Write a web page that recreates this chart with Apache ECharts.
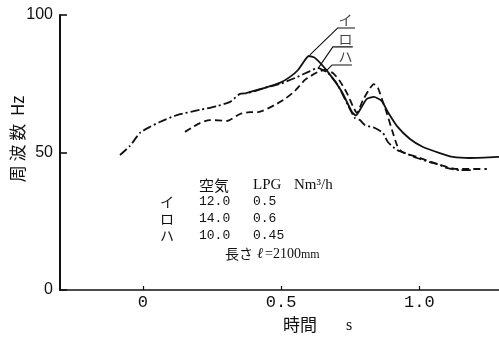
<!DOCTYPE html>
<html><head><meta charset="utf-8">
<script src="https://cdn.jsdelivr.net/npm/echarts@6/dist/echarts.min.js"></script>
<style>html,body{margin:0;padding:0;background:#fff}#c{width:499px;height:338px}</style>
</head><body><div id="c"></div>
<script>
// ---- data ----
const xTickValues = [0, 0.5, 1.0];
const xTickLabels = ['0', '0.5', '1.0'];
const yTickValues = [0, 50, 100];

// イ (solid)
const timeI = [0.373,0.441,0.495,0.532,0.561,0.586,0.600,0.622,0.669,0.720,0.756,0.770,0.785,0.810,0.835,0.864,0.886,0.919,0.966,1.013,1.074,1.121,1.183,1.288];
const freqI = [71.6,73.5,75.3,77.5,80.0,83.6,85.1,84.4,79.3,72.0,64.7,63.5,65.5,69.5,70.2,68.7,64.7,59.6,54.9,52.0,49.8,48.4,48.0,48.4];

// ロ (dash-dot)
const timeRo = [-0.083,-0.047,-0.011,0.025,0.061,0.123,0.206,0.268,0.315,0.351,0.380,0.441,0.495,0.550,0.604,0.633,0.669,0.705,0.741,0.767,0.785,0.803,0.839,0.868,0.886,0.919,0.948,0.991,1.038,1.074,1.099,1.146,1.190];
const freqRo = [49.1,52.4,57.1,59.3,61.1,63.6,65.5,66.9,68.4,71.3,71.6,73.5,74.9,77.1,79.6,80.7,78.9,74.5,67.3,62.5,61.8,60.0,58.9,57.1,53.8,50.9,49.8,48.0,46.5,45.5,44.4,43.6,43.6];

// ハ (dashed)
const timeHa = [0.152,0.181,0.206,0.242,0.304,0.351,0.387,0.416,0.477,0.514,0.550,0.586,0.633,0.658,0.687,0.712,0.738,0.759,0.774,0.796,0.817,0.835,0.850,0.868,0.882,0.901,0.919,0.937,0.991,1.074,1.136,1.244];
const freqHa = [57.5,59.3,60.7,61.8,61.5,64.0,64.7,64.7,67.3,69.5,72.4,76.4,79.3,80.0,78.9,76.0,71.6,66.9,64.4,69.1,72.7,74.9,73.5,68.4,64.4,58.2,52.7,50.2,48.4,45.5,44.0,44.0];

// curve labels and leader lines (data coordinates)
const curveNames = ['イ', 'ロ', 'ハ'];
const labelTime = [0.733, 0.733, 0.733];
const labelFreq = [98.2, 91.4, 84.9];
const leaderI = [[0.767, 95.3], [0.705, 95.3], [0.604, 85.5]];
const leaderRo = [[0.759, 88.4], [0.687, 88.4], [0.633, 80.5]];
const leaderHa = [[0.756, 81.8], [0.684, 81.8], [0.662, 79.6]];

// conditions table
const tableHeader = ['空気', 'LPG', 'Nm³/h'];
const airFlow = ['12.0', '14.0', '10.0'];
const lpgFlow = ['0.5', '0.6', '0.45'];
const lengthText = ['長さ', 'ℓ', '=2100', 'mm'];

const zip = (a, b) => a.map((v, i) => [v, b[i]]);

const chart = echarts.init(document.getElementById('c'), null, {renderer: 'canvas'});
const black = '#111';
const jp = '"Noto Sans CJK JP", sans-serif';
const serif = '"Liberation Serif", serif';
const mono = '"Liberation Mono", monospace';
const lineW = 1.8;

const graphics = [];
graphics.push({type: 'text', x: 18, y: 139, rotation: Math.PI / 2,
  style: {text: '周 波 数  Hz', font: '17px ' + jp, fill: black, textAlign: 'center', textVerticalAlign: 'middle', align: 'center', verticalAlign: 'middle'}});
function txt(s, x, y, font) {
  graphics.push({type: 'text', x: x, y: y, style: {text: s, font: font, fill: black, textVerticalAlign: 'middle', verticalAlign: 'middle'}});
}
txt('時間', 283, 325, '17px ' + jp);
txt('s', 346, 326, '16px ' + serif);
const rowY = [202, 219, 236];
txt(tableHeader[0], 199, 185, '15px ' + jp);
txt(tableHeader[1], 253, 185, '15px ' + serif);
txt(tableHeader[2], 294, 185, '15px ' + serif);
curveNames.forEach((n, i) => {
  txt(n, 160, rowY[i], '14px ' + jp);
  txt(airFlow[i], 199, rowY[i], '13px ' + mono);
  txt(lpgFlow[i], 253, rowY[i], '13px ' + mono);
});
txt(lengthText[0], 225, 254, '14px ' + jp);
txt(lengthText[1], 257, 254, 'italic 15px ' + serif);
txt(lengthText[2], 265, 254, '14px ' + serif);
txt(lengthText[3], 301, 255, '12px ' + serif);

const leaderStyle = {type: 'line', symbol: 'none', silent: true, z: 1,
  lineStyle: {color: black, width: 1.1}};

chart.setOption({
  animation: false,
  backgroundColor: '#fff',
  grid: {left: 60, right: 0, top: 15, bottom: 48, containLabel: false},
  xAxis: {
    type: 'value', min: -0.3, max: 1.288,
    axisLine: {show: true, onZero: false, lineStyle: {color: black, width: 1.6}},
    axisTick: {show: true, inside: true, length: 4, customValues: xTickValues, lineStyle: {color: black, width: 1.2}},
    axisLabel: {show: true, customValues: xTickValues, margin: 4, color: black,
      fontFamily: mono, fontSize: 17,
      formatter: v => xTickLabels[xTickValues.indexOf(v)] ?? ''},
    splitLine: {show: false}
  },
  yAxis: {
    type: 'value', min: 0, max: 100, interval: 50,
    axisLine: {show: true, onZero: false, lineStyle: {color: black, width: 2}},
    axisTick: {show: true, inside: true, length: 7, lineStyle: {color: black, width: 1.6}},
    axisLabel: {show: true, margin: 7, color: black, fontFamily: '"Liberation Sans", sans-serif', fontSize: 16,
      formatter: v => yTickValues.includes(v) ? String(v) : ''},
    splitLine: {show: false}
  },
  graphic: graphics,
  series: [
    {name: curveNames[0], type: 'line', data: zip(timeI, freqI), symbol: 'none', smooth: 0.2,
      lineStyle: {color: black, width: lineW}},
    {name: curveNames[1], type: 'line', data: zip(timeRo, freqRo), symbol: 'none', smooth: 0.2,
      lineStyle: {color: black, width: lineW, type: [9, 3, 2, 3]}},
    {name: curveNames[2], type: 'line', data: zip(timeHa, freqHa), symbol: 'none', smooth: 0.2,
      lineStyle: {color: black, width: lineW, type: [7, 4]}},
    Object.assign({data: leaderI}, leaderStyle),
    Object.assign({data: leaderRo}, leaderStyle),
    Object.assign({data: leaderHa}, leaderStyle),
    {type: 'scatter', symbolSize: 0, silent: true,
      data: curveNames.map((n, i) => ({value: [labelTime[i], labelFreq[i]], name: n})),
      label: {show: true, position: 'inside', formatter: p => p.name, color: black,
        fontFamily: jp, fontSize: 14}}
  ]
});
</script>
</body></html>
